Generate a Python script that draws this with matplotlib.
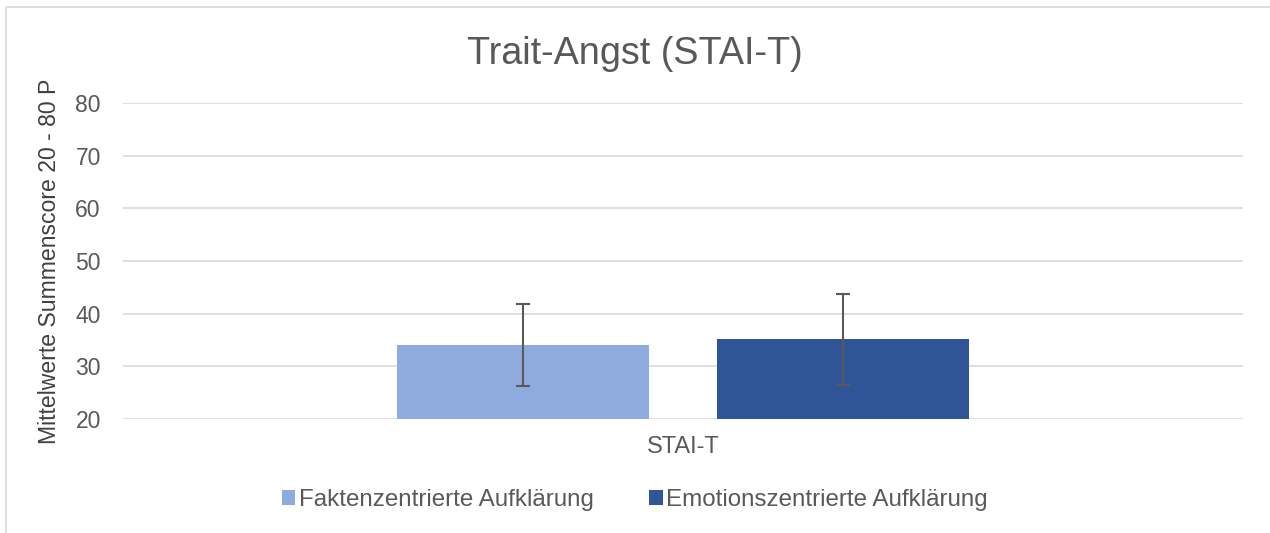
import numpy as np
import matplotlib.pyplot as plt
from matplotlib.patches import Rectangle

plt.rcParams['font.family'] = ['Liberation Sans', 'DejaVu Sans']

# data
category   = ["STAI-T"]
groups     = ["Faktenzentrierte Aufklärung", "Emotionszentrierte Aufklärung"]
means      = [34.1, 35.1]
errors     = [7.75, 8.6]
colors     = ["#8faadc", "#2f5597"]
y_ticks    = [20, 30, 40, 50, 60, 70, 80]

grey = "#595959"

fig = plt.figure(figsize=(12.7, 5.33), dpi=100)
# chart border
fig.patches.append(Rectangle((6 / 1270, -0.1), 1.2, (533 - 7) / 533 + 0.1,
                             transform=fig.transFigure, fill=False,
                             edgecolor="#d9d9d9", linewidth=1.2))

ax = fig.add_axes([123 / 1270, 114 / 533, 1120 / 1270, 316 / 533])

offsets = [-0.1425, 0.1425]
for i in range(len(groups)):
    ax.bar(offsets[i], means[i] - 20, width=0.225, bottom=20, color=colors[i],
           label=groups[i], zorder=2)
    ax.errorbar(offsets[i], means[i], yerr=errors[i], color=grey, capsize=5,
                elinewidth=1.5, capthick=1.5, zorder=3)

ax.set_xlim(-0.5, 0.5)
ax.set_ylim(20, 80)
ax.set_yticks(y_ticks)
ax.set_xticks([0])
ax.set_xticklabels(category)
ax.grid(axis="y", color="#d9d9d9", linewidth=1.2, zorder=0)
ax.set_axisbelow(True)
for s in ax.spines.values():
    s.set_visible(False)
ax.tick_params(axis="both", length=0, colors=grey, labelsize=16.5)
ax.tick_params(axis="y", pad=16)
ax.tick_params(axis="x", pad=12, labelsize=17)
ax.set_ylabel("Mittelwerte Summenscore 20 - 80 P", fontsize=16.6, color="#404040", labelpad=10)

fig.text(0.5, 1 - 54 / 533, "Trait-Angst (STAI-T)", ha="center", va="center",
         fontsize=27.2, color=grey)

leg = fig.legend(loc="center", bbox_to_anchor=(0.5, 1 - 500 / 533), ncol=2,
                 frameon=False, fontsize=17.4, handlelength=0.55, handleheight=0.55,
                 handletextpad=0.15, columnspacing=2.3)
for t in leg.get_texts():
    t.set_color(grey)

fig.savefig("out.png", dpi=100)
